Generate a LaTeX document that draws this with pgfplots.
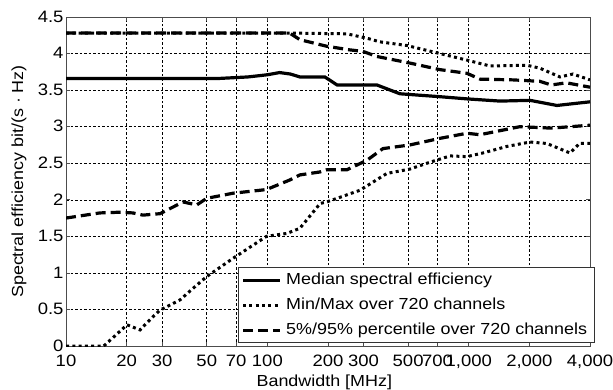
\documentclass[border=0pt]{standalone}
\usepackage{fontspec}
\setmainfont{Liberation Sans}[FakeStretch=1.12]
\usepackage{pgfplots}
\pgfplotsset{compat=1.18}
\begin{document}
\begin{tikzpicture}
\useasboundingbox (-66pt,-43pt) rectangle (547pt,346pt);
\begin{axis}[
  at={(0pt,0pt)}, anchor=south west,
  scale only axis,
  width=524pt, height=329pt,
  xmode=log,
  xmin=10, xmax=4000,
  ymin=0, ymax=4.5,
  xtick={10,20,30,50,70,100,200,300,500,700,1000,2000,4000},
  xticklabels={10,20,30,50,70,100,200,300,500,700,{1,000},{2,000},{4,000}},
  ytick={0,0.5,1,1.5,2,2.5,3,3.5,4,4.5},
  yticklabels={0,0.5,1,1.5,2,2.5,3,3.5,4,4.5},
  minor xtick={},
  /pgf/number format/assume math mode=true,
  tick label style={font=\fontsize{16.5}{18}\selectfont},
  xticklabel style={yshift=-8pt, inner sep=1pt},
  yticklabel style={xshift=1pt, yshift=0.5pt},
  xlabel={Bandwidth [MHz]},
  ylabel={Spectral efficiency bit/(s · Hz)},
  every axis x label/.style={at={(axis description cs:0.493,-0.11)}, anchor=center, font=\fontsize{16}{18}\selectfont},
  every axis y label/.style={at={(axis description cs:-0.0897,0.5)}, rotate=90, anchor=center, font=\fontsize{16}{18}\selectfont},
  grid=major,
  major grid style={black, line width=0.55pt, dash pattern=on 2.5pt off 2pt},
  tick align=inside,
  major tick length=4pt,
  tick style={black!70, line width=0.6pt},
  axis line style={black!70, line width=0.9pt},
  legend style={at={(axis description cs:1.0095,0.009)}, anchor=south east,
    font=\fontsize{16}{18}\selectfont, draw=black!80, line width=0.8pt,
    inner xsep=3pt, inner ysep=0pt, row sep=0pt,
    nodes={inner sep=4.5pt, text height=12pt, text depth=4pt}},
  legend cell align=left,
  legend image code/.code={\draw[#1] (0pt,0pt) -- (37pt,0pt);},
]
\addplot[black, line width=3.2pt] coordinates {
(10,3.66) (58,3.66) (80,3.68) (100,3.71) (115,3.74) (130,3.72) (145,3.68)
(193,3.68) (222,3.57) (350,3.57) (455,3.45) (719,3.41) (980,3.38)
(1429,3.35) (2014,3.36) (2741,3.29) (4000,3.34)};
\addlegendentry{Median spectral efficiency}
\addplot[black, line width=3pt, dash pattern=on 3pt off 3.3pt] coordinates {
(10,4.28) (129,4.28) (248,4.27) (312,4.21) (362,4.16) (493,4.11) (719,4.00)
(980,3.91) (1274,3.83) (1946,3.84) (2254,3.80) (2838,3.68) (3290,3.72) (4000,3.64)};
\addlegendentry{Min/Max over 720 channels}
\addplot[black, line width=3.2pt, dash pattern=on 10pt off 5pt] coordinates {
(10,4.28) (129,4.28) (145,4.19) (197,4.10) (257,4.05) (298,4.03) (350,3.96)
(510,3.87) (719,3.78) (980,3.73) (1137,3.65) (1655,3.64) (2254,3.62)
(2570,3.57) (3050,3.60) (4000,3.54)};
\addlegendentry{5\%/95\% percentile over 720 channels}
\addplot[black, line width=3pt, dash pattern=on 3pt off 3.3pt, forget plot] coordinates {
(10,0) (15.4,0) (20.1,0.29) (23.3,0.22) (27,0.40) (29.3,0.49) (36.8,0.63)
(42.8,0.79) (50,0.95) (67.6,1.20) (99,1.50) (125,1.54) (145,1.61) (183,1.95)
(197,1.97) (288,2.13) (392,2.36) (510,2.42) (620,2.50) (807,2.60) (980,2.59)
(1175,2.64) (1549,2.73) (2014,2.79) (2441,2.77) (3185,2.64) (3543,2.77) (4000,2.77)};
\addplot[black, line width=3.2pt, dash pattern=on 10pt off 5pt, forget plot] coordinates {
(10,1.75) (14.7,1.82) (18.5,1.83) (21.5,1.82) (24.1,1.79) (29.3,1.81)
(38.1,1.97) (44.6,1.93) (50,2.02) (67.6,2.09) (99,2.14) (129,2.27) (145,2.34)
(182,2.38) (197,2.41) (248,2.41) (312,2.54) (375,2.70) (510,2.75) (719,2.84)
(980,2.91) (1137,2.89) (1795,3.00) (2570,2.98) (4000,3.02)};
\end{axis}
\end{tikzpicture}
\end{document}
